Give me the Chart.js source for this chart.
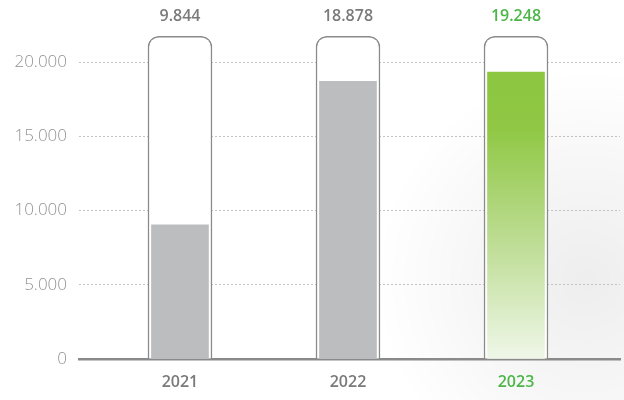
<!DOCTYPE html>
<html>
<head>
<meta charset="utf-8">
<script src="https://cdn.jsdelivr.net/npm/chart.js@4"></script>
<style>
  html, body { margin: 0; padding: 0; background: #fff; }
  #wrap { width: 624px; height: 400px; }
</style>
</head>
<body>
<div id="wrap"><canvas id="barChart"></canvas></div>
<script>
const years = [2021, 2022, 2023];
const barValues = [9050, 18720, 19330];
const valueLabels = ['9.844', '18.878', '19.248'];
const boxValues = [21750, 21750, 21750];
const yTicks = [0, 5000, 10000, 15000, 20000];

const GREY_TEXT = '#7a7a7a';
const GREEN_TEXT = '#4cb748';

// soft shadow behind the last year
const shadowPlugin = {
    id: 'shadow',
    beforeDraw(chart) {
        const ctx = chart.ctx;
        const x = chart.scales.x.getPixelForValue(years[2]);
        ctx.save();
        const g = ctx.createRadialGradient(x + 70, 280, 5, x + 70, 280, 210);
        g.addColorStop(0, 'rgba(0,0,0,0.065)');
        g.addColorStop(0.5, 'rgba(0,0,0,0.035)');
        g.addColorStop(1, 'rgba(0,0,0,0)');
        ctx.fillStyle = g;
        ctx.fillRect(0, 0, chart.width, chart.height);
        ctx.restore();
    }
};

const valueLabelPlugin = {
    id: 'valueLabels',
    afterDatasetsDraw(chart) {
        const ctx = chart.ctx;
        ctx.save();
        ctx.font = '600 16px "Open Sans"';
        ctx.textAlign = 'center';
        ctx.textBaseline = 'middle';
        years.forEach((y, i) => {
            ctx.fillStyle = i === 2 ? GREEN_TEXT : GREY_TEXT;
            ctx.fillText(valueLabels[i], chart.scales.x.getPixelForValue(y), 16);
        });
        ctx.restore();
    }
};

const ctx = document.getElementById('barChart').getContext('2d');
new Chart(ctx, {
    type: 'bar',
    data: {
        datasets: [{
            label: 'value',
            data: years.map((y, i) => ({ x: y, y: barValues[i] })),
            grouped: false,
            order: 0,
            barThickness: 57,
            borderWidth: 0,
            backgroundColor: (c) => {
                if (c.dataIndex !== 2) return '#bcbdbf';
                const area = c.chart.chartArea;
                if (!area) return '#8cc63f';
                const top = c.chart.scales.y.getPixelForValue(barValues[2]);
                const g = c.chart.ctx.createLinearGradient(0, top, 0, area.bottom);
                g.addColorStop(0, '#8cc63f');
                g.addColorStop(0.2, '#90c845');
                g.addColorStop(0.6, '#bedd95');
                g.addColorStop(1, '#eff7e9');
                return g;
            }
        }, {
            label: 'box',
            data: years.map((y, i) => ({ x: y, y: boxValues[i] })),
            grouped: false,
            order: 1,
            barThickness: 64,
            backgroundColor: '#ffffff',
            borderColor: '#8a8a8a',
            borderWidth: 1.5,
            borderSkipped: 'bottom',
            borderRadius: { topLeft: 11, topRight: 11, bottomLeft: 0, bottomRight: 0 }
        }]
    },
    options: {
        responsive: true,
        maintainAspectRatio: false,
        animation: false,
        layout: { autoPadding: false, padding: { top: 1, right: 4, left: 0, bottom: 0 } },
        plugins: {
            legend: { display: false },
            tooltip: { enabled: false }
        },
        scales: {
            x: {
                type: 'linear',
                offset: false,
                min: 2020.399,
                max: 2023.619,
                afterBuildTicks: (s) => { s.ticks = years.map(v => ({ value: v })); },
                afterFit: (s) => { s.height = 41; },
                grid: { display: false, drawTicks: false, offset: false },
                border: { display: true, color: '#8a8a8a', width: 2.5 },
                ticks: {
                    padding: 14,
                    font: { family: 'Open Sans', size: 16, weight: '600' },
                    color: (c) => c.index === 2 ? GREEN_TEXT : GREY_TEXT,
                    callback: (v) => String(v)
                }
            },
            y: {
                min: 0,
                max: 22700,
                afterBuildTicks: (s) => { s.ticks = yTicks.map(v => ({ value: v })); },
                afterFit: (s) => { s.width = 79; },
                grid: { color: '#c2c2c2', lineWidth: 1, drawTicks: false },
                border: { display: false, dash: [2, 2] },
                ticks: {
                    padding: 12,
                    font: { family: 'Open Sans', size: 17, weight: '300' },
                    color: '#939393',
                    callback: (v) => v === 0 ? '0' : v.toLocaleString('de-DE')
                }
            }
        }
    },
    plugins: [shadowPlugin, valueLabelPlugin]
});
</script>
</body>
</html>
